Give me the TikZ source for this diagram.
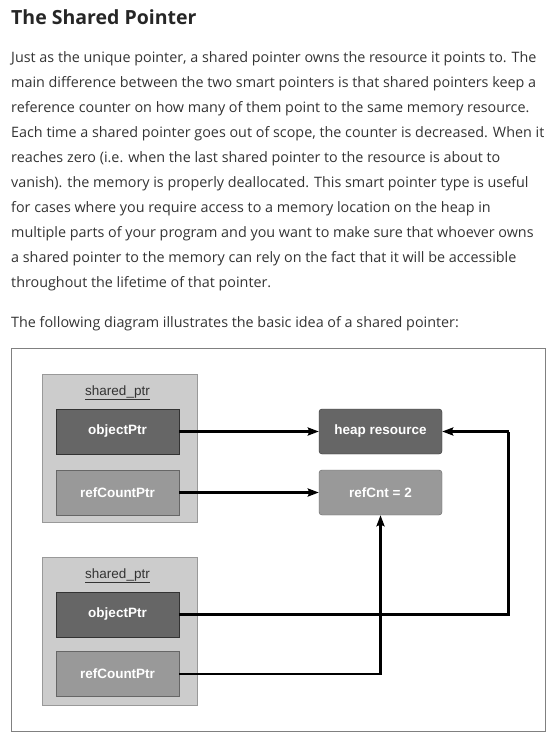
\documentclass[tikz,border=0pt]{standalone}
\usepackage{fontspec}
\setmainfont{Open Sans}
\newfontfamily\helvfont{Liberation Sans}
\usetikzlibrary{arrows.meta}
\definecolor{textgray}{HTML}{333333}
\definecolor{darkbox}{HTML}{666666}
\definecolor{lightbox}{HTML}{999999}
\definecolor{groupfill}{HTML}{CCCCCC}
\begin{document}
\begin{tikzpicture}[x=1pt,y=-1pt,
    bodytext/.style={anchor=base west,inner sep=0pt,text=textgray,font=\fontsize{14.35}{18}\selectfont},
    group/.style={draw=lightbox,fill=groupfill,line width=0.8pt},
    grouplabel/.style={inner sep=0pt,anchor=base,text=textgray,font=\helvfont\fontsize{13.5}{15}\selectfont},
    ptrbox/.style={minimum width=123pt,minimum height=45pt,inner sep=0pt,text=white,
        font=\helvfont\bfseries\fontsize{13.5}{15}\selectfont},
    objbox/.style={ptrbox,draw=textgray,fill=darkbox},
    cntbox/.style={ptrbox,draw=darkbox,fill=lightbox},
    wire/.style={line width=2.2pt},
    conn/.style={wire,-{Stealth[length=11pt,width=8pt,inset=1.5pt]}}]
    \useasboundingbox (0,0) rectangle (557,744);
    % text above the diagram
    \node[bodytext,text=black!85,font=\bfseries\fontsize{19.5}{24}\selectfont] (title) at (11,24) {The Shared Pointer};
    \node[bodytext] (l1) at (11,62) {Just as the unique pointer, a shared pointer owns the resource it points to. The};
    \node[bodytext] (l2) at (11,87) {main difference between the two smart pointers is that shared pointers keep a};
    \node[bodytext] (l3) at (11,112) {reference counter on how many of them point to the same memory resource.};
    \node[bodytext] (l4) at (11,137) {Each time a shared pointer goes out of scope, the counter is decreased. When it};
    \node[bodytext] (l5) at (11,162) {reaches zero (i.e. when the last shared pointer to the resource is about to};
    \node[bodytext] (l6) at (11,187) {vanish). the memory is properly deallocated. This smart pointer type is useful};
    \node[bodytext] (l7) at (11,212) {for cases where you require access to a memory location on the heap in};
    \node[bodytext] (l8) at (11,237) {multiple parts of your program and you want to make sure that whoever owns};
    \node[bodytext] (l9) at (11,262) {a shared pointer to the memory can rely on the fact that it will be accessible};
    \node[bodytext] (l10) at (11,287) {throughout the lifetime of that pointer.};
    \node[bodytext] (l11) at (11,327) {The following diagram illustrates the basic idea of a shared pointer:};
    % frame
    \draw[draw=black!50,line width=0.8pt] (11.5,348.5) rectangle (545.5,731.5);
    % first shared_ptr
    \draw[group] (42.5,374.5) rectangle (197.5,522);
    \node[grouplabel] (lab1) at (117.5,395) {\underline{shared\_ptr}};
    \node[objbox] (obj1) at (117.5,431.5) {objectPtr};
    \node[cntbox] (rc1) at (117.5,492.5) {refCountPtr};
    % second shared_ptr
    \draw[group] (42.5,557.5) rectangle (197.5,705);
    \node[grouplabel] (lab2) at (117.5,578) {\underline{shared\_ptr}};
    \node[objbox] (obj2) at (117.5,614.5) {objectPtr};
    \node[cntbox] (rc2) at (117.5,674) {refCountPtr};
    % resource and counter
    \node[objbox,rounded corners=3pt] (heap) at (380.5,431.5) {heap resource};
    \node[cntbox,rounded corners=3pt] (cnt) at (380.5,492.5) {refCnt = 2};
    \coordinate (turn) at (508.5,431.5);
    \draw[conn] (obj1) -- (heap);
    \draw[conn] (rc1) -- (cnt);
    \draw[wire] (obj2.east) -| (turn);
    \draw[conn] (turn) -- (heap.east);
    \draw[conn] (rc2.east) -| (cnt.south);
\end{tikzpicture}
\end{document}
